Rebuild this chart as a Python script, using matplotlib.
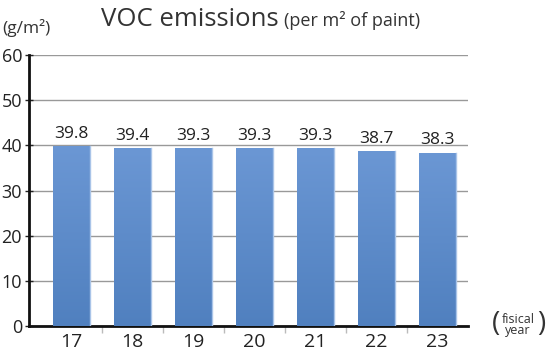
import matplotlib
matplotlib.use("Agg")
import matplotlib.pyplot as plt
import numpy as np
from matplotlib.colors import LinearSegmentedColormap

years = ["17", "18", "19", "20", "21", "22", "23"]
values = [39.8, 39.4, 39.3, 39.3, 39.3, 38.7, 38.3]
yticks = [0, 10, 20, 30, 40, 50, 60]

plt.rcParams['font.family'] = ['Open Sans', 'DejaVu Sans']

fig = plt.figure(figsize=(5.5, 3.6), dpi=100)
ax = fig.add_axes([29/550, 34/360, 439/550, 271/360])

x = np.arange(len(years))
bars = ax.bar(x, values, width=0.6, color='none', edgecolor='none', zorder=3)
cmap = LinearSegmentedColormap.from_list('g', ['#5080bf', '#6b97d4'])
grad = np.linspace(0, 1, 256).reshape(-1, 1)
for b in bars:
    x0, y0 = b.get_x(), b.get_y()
    w, h = b.get_width(), b.get_height()
    im = ax.imshow(grad, cmap=cmap, origin='lower', aspect='auto',
                   extent=[x0, x0 + w, y0, y0 + h], zorder=3)
    im.set_clip_path(b)
    ax.plot([x0 + w, x0 + w], [y0, y0 + h], color='#a9c4e8', lw=1.0, zorder=4)

for xi, v in zip(x, values):
    ax.text(xi, v + 1.0, f"{v:.1f}", ha='center', va='bottom', fontsize=12.5, color='#222222')

ax.set_xlim(-0.7, 6.5)
ax.set_ylim(0, 60)
ax.set_yticks(yticks)
ax.set_yticklabels([str(t) for t in yticks], fontsize=13)
ax.set_xticks(x)
ax.set_xticklabels(years, fontsize=14)
ax.set_xticks(np.arange(0.5, 6.0, 1.0), minor=True)
ax.tick_params(axis='x', which='major', length=0, pad=5, colors='#222222')
ax.tick_params(axis='x', which='minor', length=5, color='#bbbbbb', width=1)
ax.tick_params(axis='y', direction='inout', length=6, width=1.0, pad=2, colors='#222222')

ax.grid(axis='y', color='#999999', lw=1.0, zorder=0)
ax.set_axisbelow(True)
for s in ['top', 'right']:
    ax.spines[s].set_visible(False)
ax.spines['left'].set_linewidth(2)
ax.spines['bottom'].set_linewidth(2)
ax.spines['left'].set_color('#111111')
ax.spines['bottom'].set_color('#111111')

fig.text(2/550, 1 - 28/360, "(g/m²)", fontsize=12.5, ha='left', va='center', color='#333333')
fig.text(101/550, 1 - 19/360, "VOC emissions", fontsize=18.5, ha='left', va='center', color='#333333')
fig.text(284/550, 1 - 20/360, "(per m² of paint)", fontsize=13, ha='left', va='center', color='#333333')
fig.text(518/550, 1 - 325/360, "fisical\nyear", fontsize=9, ha='center', va='center',
         color='#333333', linespacing=0.85)
fig.text(496/550, 1 - 324/360, "(", fontsize=20, ha='center', va='center', color='#333333')
fig.text(541/550, 1 - 324/360, ")", fontsize=20, ha='center', va='center', color='#333333')

fig.savefig("out.png", dpi=100)
